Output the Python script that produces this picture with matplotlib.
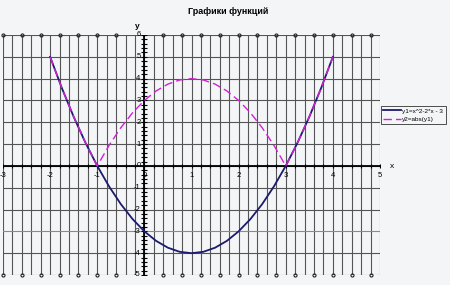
import matplotlib
matplotlib.use("Agg")
import matplotlib.pyplot as plt
import numpy as np

plt.rcParams['font.family'] = ['Liberation Sans', 'DejaVu Sans']

x_vals = [-2, -1.75, -1.5, -1.25, -1, -0.75, -0.5, -0.25, 0, 0.25, 0.5, 0.75, 1,
          1.25, 1.5, 1.75, 2, 2.25, 2.5, 2.75, 3, 3.25, 3.5, 3.75, 4]
y1_vals = [5, 3.5625, 2.25, 1.0625, 0, -0.9375, -1.75, -2.4375, -3, -3.4375, -3.75, -3.9375, -4,
           -3.9375, -3.75, -3.4375, -3, -2.4375, -1.75, -0.9375, 0, 1.0625, 2.25, 3.5625, 5]
y2_vals = [5, 3.5625, 2.25, 1.0625, 0, 0.9375, 1.75, 2.4375, 3, 3.4375, 3.75, 3.9375, 4,
           3.9375, 3.75, 3.4375, 3, 2.4375, 1.75, 0.9375, 0, 1.0625, 2.25, 3.5625, 5]
x_ticks = [-3, -2, -1, 0, 1, 2, 3, 4, 5]
y_ticks = [6, 5, 4, 3, 2, 1, 0, -1, -2, -3, -4, -5]
edge_dots = [-3, -2.6, -2.2, -1.8, -1.4, -1.0, -0.6, 0.4, 0.8, 1.2, 1.6, 2.0, 2.4, 2.8,
             3.2, 3.6, 4.0, 4.4, 4.8]
title = "Графики функций"
label1 = "y1=x^2-2*x - 3"
label2 = "y2=abs(y1)"

bg = '#f4f5f7'
fig = plt.figure(figsize=(4.5, 2.85), dpi=100, facecolor=bg)
ax = fig.add_axes([3/450, 1-275/285, 377/450, 240/285], facecolor=bg)
ax.set_xlim(-3, 5)
ax.set_ylim(-5, 6)
for s in ax.spines.values():
    s.set_visible(False)
ax.set_xticks([])
ax.set_yticks([])

gc = '#555555'
for xv in np.arange(-3, 5.001, 0.2):
    ax.axvline(xv, color=gc, lw=0.8, zorder=1)
for yv in y_ticks:
    ax.axhline(yv, color=('#8a8a8a' if yv == -3 else gc), lw=0.8, zorder=1)

# axes
ax.axhline(0, color='black', lw=1.3, zorder=2)
ax.axvline(0, color='black', lw=1.3, zorder=2)
minor_y = np.arange(-5, 6.001, 0.2)
ax.plot(np.zeros_like(minor_y), minor_y, ls='none', marker='_', ms=4, mew=0.8, color='black', zorder=3)
minor_x = np.arange(-3, 5.001, 0.2)
ax.plot(minor_x, np.zeros_like(minor_x), ls='none', marker='|', ms=3, mew=0.8, color='black', zorder=3)
# dots at top/bottom edges
ax.plot(edge_dots, [6]*len(edge_dots), ls='none', marker='o', ms=2.2, mfc='none', mew=0.8,
        color='#222222', zorder=3, clip_on=False)
ax.plot(edge_dots, [-5]*len(edge_dots), ls='none', marker='o', ms=2.2, mfc='none', mew=0.8,
        color='#222222', zorder=3, clip_on=False)

fs = 5.5
for xv in x_ticks:
    ax.text(xv, -0.3, str(xv), ha='center', va='top', fontsize=fs, zorder=4)
for yv in y_ticks:
    ax.text(-0.08, yv, str(yv), ha='right', va='center', fontsize=fs, zorder=4)

ax.plot(x_vals, y1_vals, color='#1c1a6e', lw=1.3, zorder=5, label=label1)
ax.plot(x_vals, y2_vals, color='#d41fd4', lw=1.0, ls=(0, (6, 3)), zorder=6, label=label2)

fig.text(137/450, 1-27/285, 'y', fontsize=6, ha='center', va='center', fontweight='bold')
fig.text(392/450, 1-166/285, 'x', fontsize=6, ha='center', va='center')
fig.text(228/450, 1-12/285, title, fontsize=6.5, ha='center', va='center', fontweight='bold')

leg = fig.legend(loc='upper left', bbox_to_anchor=(381/450, 1-106/285), fontsize=4.6,
                 frameon=True, fancybox=False, edgecolor='black', facecolor=bg,
                 handlelength=2.8, handletextpad=0.2, borderpad=0.35, labelspacing=0.4,
                 borderaxespad=0)
leg.get_frame().set_linewidth(0.6)

fig.savefig('out.png', dpi=100, facecolor=bg)
